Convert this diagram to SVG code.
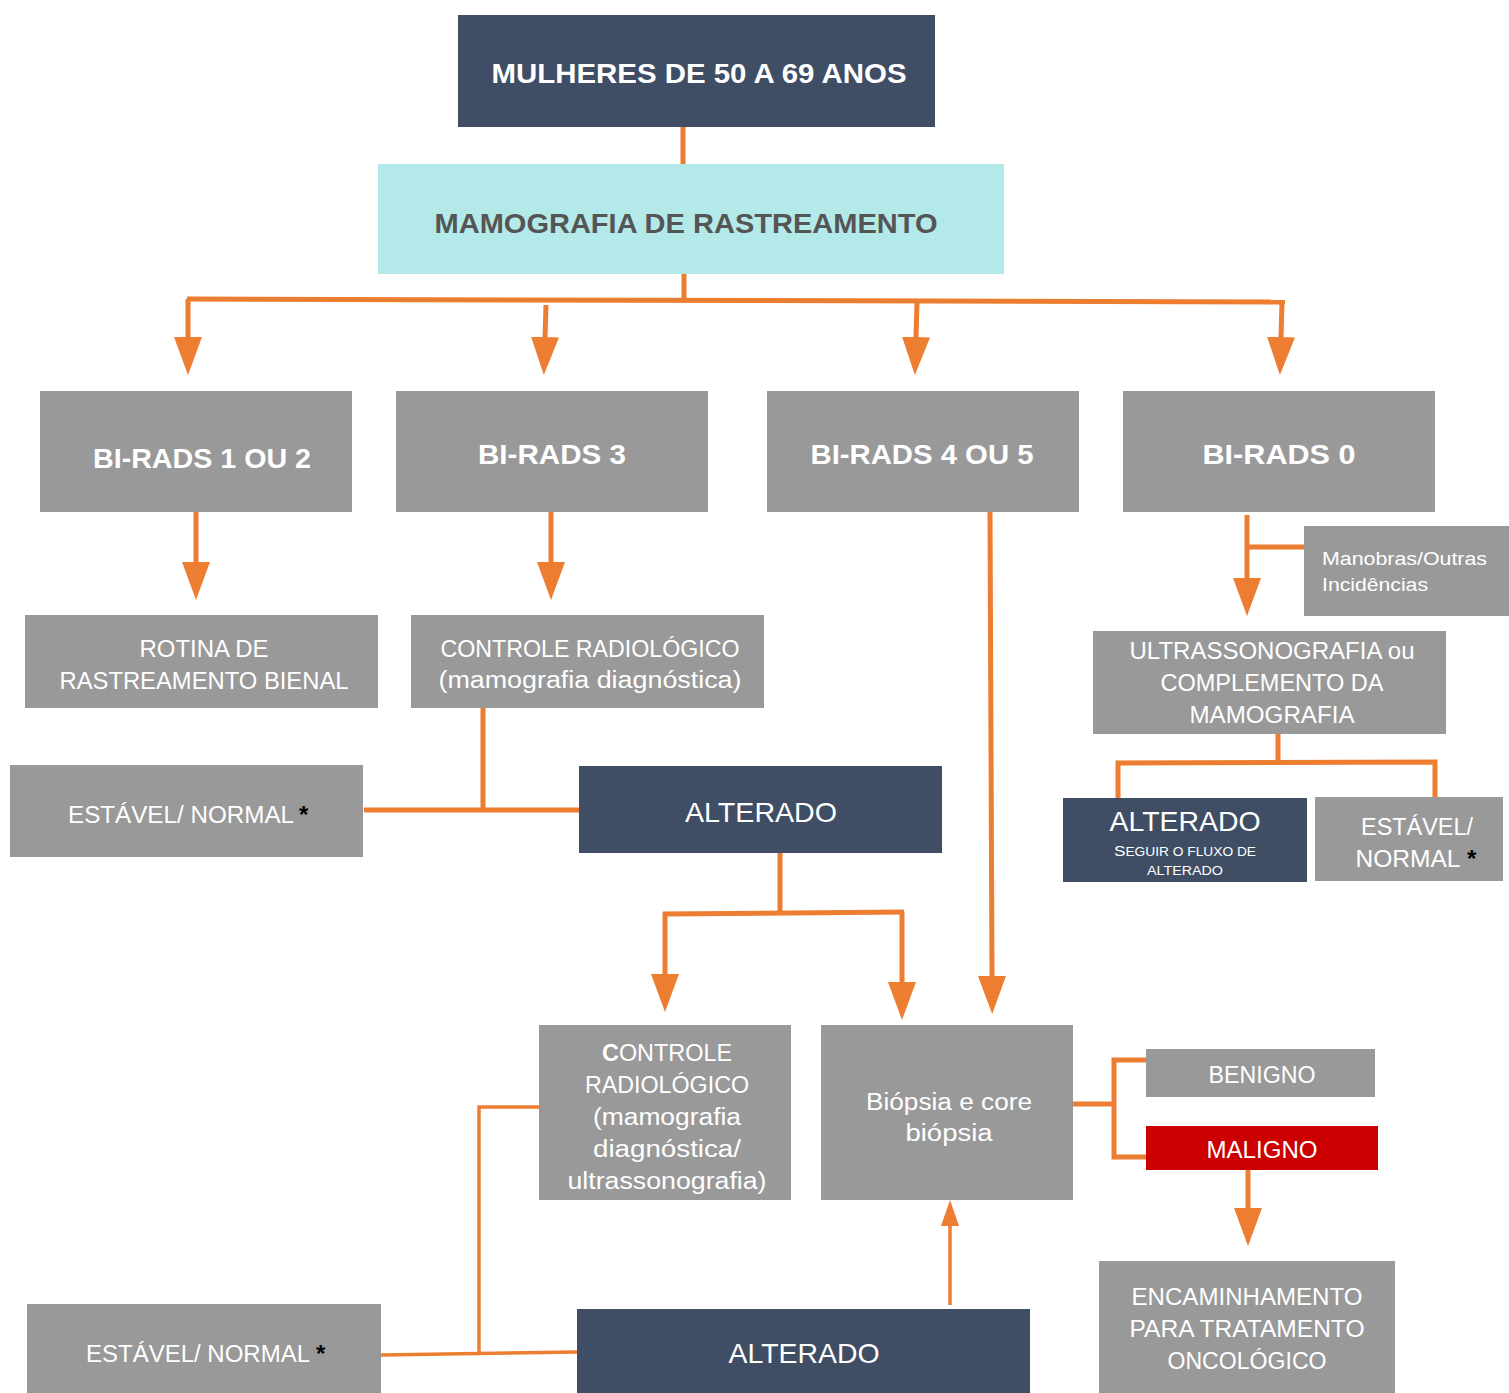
<svg xmlns="http://www.w3.org/2000/svg" width="1509" height="1393" viewBox="0 0 1509 1393">
<style>
.g{fill:#999999}
.d{fill:#3f4e64}
.c{fill:#b3e9e8}
.r{fill:#cc0000}
text{font-family:"Liberation Sans","Noto Sans",Arial,sans-serif;fill:#ffffff;text-anchor:middle}
.b{font-weight:bold;font-size:28px}
.t{font-size:23px}
.big{font-size:28px}
.ast{fill:#000000;font-weight:bold;font-size:24px;text-anchor:start}
.conn path{fill:none;stroke:#ed7d31;stroke-width:5}
.conn .thin{stroke-width:3.5}
</style>
<defs>
<marker id="ah" markerUnits="userSpaceOnUse" viewBox="0 0 38 28" refX="0" refY="14" markerWidth="38" markerHeight="28" orient="auto">
<path d="M0,0 L38,14 L0,28 z" fill="#ed7d31"/>
</marker>
<marker id="ahs" markerUnits="userSpaceOnUse" viewBox="0 0 26 18" refX="0" refY="9" markerWidth="26" markerHeight="18" orient="auto">
<path d="M0,0 L26,9 L0,18 z" fill="#ed7d31"/>
</marker>
</defs>
<rect width="1509" height="1393" fill="#ffffff"/>

<g class="conn">
<path d="M683,127 L683,164"/>
<path d="M684,274 L684,301"/>
<path d="M187,299 L1285,302"/>
<path d="M188,299 L188,337" marker-end="url(#ah)"/>
<path d="M546,305 L545,337" marker-end="url(#ah)"/>
<path d="M917,303 L916,337" marker-end="url(#ah)"/>
<path d="M1282,302 L1281,337" marker-end="url(#ah)"/>
<path d="M196,512 L196,562" marker-end="url(#ah)"/>
<path d="M551,512 L551,562" marker-end="url(#ah)"/>
<path d="M483,708 L483,810"/>
<path d="M364,810 L579,810"/>
<path d="M780,853 L780,912"/>
<path d="M663,914 L904,912"/>
<path d="M665,912 L665,974" marker-end="url(#ah)"/>
<path d="M902,912 L902,982" marker-end="url(#ah)"/>
<path d="M990,512 L992,976" marker-end="url(#ah)"/>
<path d="M1073,1104 L1114,1104"/>
<path d="M1146,1060 L1114,1060 L1114,1157 L1146,1157"/>
<path d="M1248,1170 L1248,1208" marker-end="url(#ah)"/>
<path class="thin" d="M950,1305 L950,1226" marker-end="url(#ahs)"/>
<path class="thin" d="M381,1355 L577,1352"/>
<path class="thin" d="M479,1352 L479,1107 L539,1107"/>
<path d="M1247,515 L1247,578" marker-end="url(#ah)"/>
<path d="M1247,547 L1304,547"/>
<path d="M1278,734 L1278,762"/>
<path d="M1118,798 L1118,763 L1435,762 L1435,797"/>
</g>

<g id="n-mulheres"><rect class="d" x="458" y="15" width="477" height="112"/><text class="b" x="699" y="83" textLength="415" lengthAdjust="spacingAndGlyphs">MULHERES DE 50 A 69 ANOS</text></g>
<g id="n-mamografia"><rect class="c" x="378" y="164" width="626" height="110"/><text class="b" x="686" y="233" textLength="503" lengthAdjust="spacingAndGlyphs" style="fill:#555555">MAMOGRAFIA DE RASTREAMENTO</text></g>

<g id="n-br12"><rect class="g" x="40" y="391" width="312" height="121"/><text class="b" x="202" y="468" textLength="218" lengthAdjust="spacingAndGlyphs">BI-RADS 1 OU 2</text></g>
<g id="n-br3"><rect class="g" x="396" y="391" width="312" height="121"/><text class="b" x="552" y="464" textLength="148" lengthAdjust="spacingAndGlyphs">BI-RADS 3</text></g>
<g id="n-br45"><rect class="g" x="767" y="391" width="312" height="121"/><text class="b" x="922" y="464" textLength="223" lengthAdjust="spacingAndGlyphs">BI-RADS 4 OU 5</text></g>
<g id="n-br0"><rect class="g" x="1123" y="391" width="312" height="121"/><text class="b" x="1279" y="464" textLength="153" lengthAdjust="spacingAndGlyphs">BI-RADS 0</text></g>

<g id="n-rotina"><rect class="g" x="25" y="615" width="353" height="93"/>
<text class="t" x="204" y="657" textLength="129" lengthAdjust="spacingAndGlyphs">ROTINA DE</text>
<text class="t" x="204" y="689" textLength="289" lengthAdjust="spacingAndGlyphs">RASTREAMENTO BIENAL</text></g>

<g id="n-controle1"><rect class="g" x="411" y="615" width="353" height="93"/>
<text class="t" x="590" y="657" textLength="299" lengthAdjust="spacingAndGlyphs">CONTROLE RADIOLÓGICO</text>
<text class="t" x="590" y="688" textLength="303" lengthAdjust="spacingAndGlyphs">(mamografia diagnóstica)</text></g>

<g id="n-estavel1"><rect class="g" x="10" y="765" width="353" height="92"/>
<text class="t" x="181" y="823" textLength="226" lengthAdjust="spacingAndGlyphs">ESTÁVEL/ NORMAL</text>
<text class="ast" x="299" y="823">*</text></g>

<g id="n-alterado1"><rect class="d" x="579" y="766" width="363" height="87"/>
<text class="big" x="761" y="822" textLength="152" lengthAdjust="spacingAndGlyphs">ALTERADO</text></g>

<g id="n-ultra"><rect class="g" x="1093" y="631" width="353" height="103"/>
<text class="t" x="1272" y="659" textLength="285" lengthAdjust="spacingAndGlyphs">ULTRASSONOGRAFIA ou</text>
<text class="t" x="1272" y="691" textLength="223" lengthAdjust="spacingAndGlyphs">COMPLEMENTO DA</text>
<text class="t" x="1272" y="723" textLength="165" lengthAdjust="spacingAndGlyphs">MAMOGRAFIA</text></g>

<g id="n-manobras"><rect class="g" x="1304" y="526" width="205" height="90"/>
<text x="1322" y="565" style="font-size:18px;text-anchor:start" textLength="165" lengthAdjust="spacingAndGlyphs">Manobras/Outras</text>
<text x="1322" y="591" style="font-size:18px;text-anchor:start" textLength="106" lengthAdjust="spacingAndGlyphs">Incidências</text></g>

<g id="n-alterado2"><rect class="d" x="1063" y="798" width="244" height="84"/>
<text class="big" x="1185" y="831" textLength="151" lengthAdjust="spacingAndGlyphs">ALTERADO</text>
<text x="1185" y="856" style="font-size:12px" textLength="142" lengthAdjust="spacingAndGlyphs"><tspan style="font-size:15px">S</tspan>EGUIR O FLUXO DE</text>
<text x="1185" y="875" style="font-size:12px" textLength="76" lengthAdjust="spacingAndGlyphs">ALTERADO</text></g>

<g id="n-estavel2"><rect class="g" x="1315" y="797" width="188" height="84"/>
<text class="t" x="1417" y="835" textLength="112" lengthAdjust="spacingAndGlyphs">ESTÁVEL/</text>
<text class="t" x="1408" y="867" textLength="105" lengthAdjust="spacingAndGlyphs">NORMAL</text>
<text class="ast" x="1467" y="867">*</text></g>

<g id="n-controle2"><rect class="g" x="539" y="1025" width="252" height="175"/>
<text class="t" x="667" y="1061" textLength="130" lengthAdjust="spacingAndGlyphs"><tspan font-weight="bold">C</tspan>ONTROLE</text>
<text class="t" x="667" y="1093" textLength="164" lengthAdjust="spacingAndGlyphs">RADIOLÓGICO</text>
<text class="t" x="667" y="1125" textLength="148" lengthAdjust="spacingAndGlyphs">(mamografia</text>
<text class="t" x="667" y="1157" textLength="148" lengthAdjust="spacingAndGlyphs">diagnóstica/</text>
<text class="t" x="667" y="1189" textLength="199" lengthAdjust="spacingAndGlyphs">ultrassonografia)</text></g>

<g id="n-biopsia"><rect class="g" x="821" y="1025" width="252" height="175"/>
<text class="t" x="949" y="1110" textLength="166" lengthAdjust="spacingAndGlyphs">Biópsia e core</text>
<text class="t" x="949" y="1141" textLength="87" lengthAdjust="spacingAndGlyphs">biópsia</text></g>

<g id="n-benigno"><rect class="g" x="1146" y="1049" width="229" height="48"/>
<text class="t" x="1262" y="1083" textLength="107" lengthAdjust="spacingAndGlyphs">BENIGNO</text></g>

<g id="n-maligno"><rect class="r" x="1146" y="1126" width="232" height="44"/>
<text class="t" x="1262" y="1158" textLength="111" lengthAdjust="spacingAndGlyphs">MALIGNO</text></g>

<g id="n-encaminhamento"><rect class="g" x="1099" y="1261" width="296" height="132"/>
<text class="t" x="1247" y="1305" textLength="231" lengthAdjust="spacingAndGlyphs">ENCAMINHAMENTO</text>
<text class="t" x="1247" y="1337" textLength="235" lengthAdjust="spacingAndGlyphs">PARA TRATAMENTO</text>
<text class="t" x="1247" y="1369" textLength="159" lengthAdjust="spacingAndGlyphs">ONCOLÓGICO</text></g>

<g id="n-alterado3"><rect class="d" x="577" y="1309" width="453" height="84"/>
<text class="big" x="804" y="1363" textLength="151" lengthAdjust="spacingAndGlyphs">ALTERADO</text></g>

<g id="n-estavel3"><rect class="g" x="27" y="1304" width="354" height="89"/>
<text class="t" x="198" y="1362" textLength="224" lengthAdjust="spacingAndGlyphs">ESTÁVEL/ NORMAL</text>
<text class="ast" x="316" y="1362">*</text></g>
</svg>
